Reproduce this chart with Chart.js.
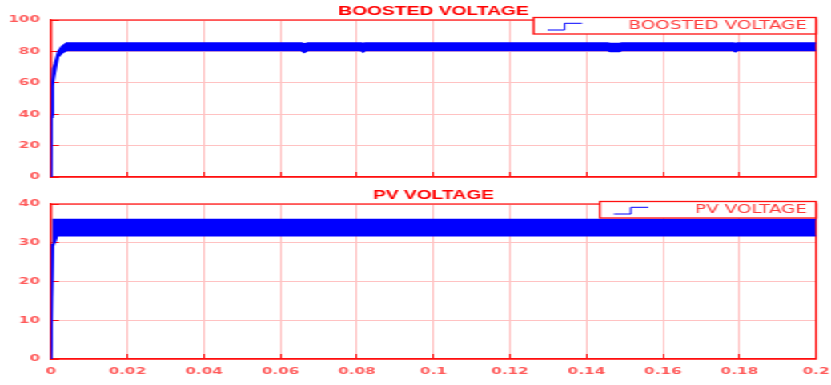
<!DOCTYPE html>
<html>
<head>
<meta charset="utf-8">
<script src="https://cdn.jsdelivr.net/npm/chart.js@4.4.0/dist/chart.umd.min.js"></script>
<style>
  html, body { margin: 0; padding: 0; background: #fff; width: 831px; height: 385px; overflow: hidden; }
  /* the scope export is stretched sideways, so draw narrow and widen */
  #wrap { position: absolute; left: 0; top: 0; width: 519px; transform-origin: 0 0; transform: scaleX(1.60116); }
  canvas { display: block; }
</style>
</head>
<body>
<div id="wrap">
  <canvas id="boostChart" width="519" height="185"></canvas>
  <canvas id="pvChart" width="519" height="200"></canvas>
</div>
<script>
// --- Data: envelope of the switching ripple ---
const boostTime  = [0, 0.0001, 0.0004, 0.0006, 0.001, 0.0015, 0.0019, 0.0028, 0.0041, 0.0655, 0.0662, 0.0672, 0.0811, 0.0816, 0.0821, 0.1455, 0.1462, 0.1486, 0.1493, 0.1784, 0.1789, 0.1795, 0.2];
const boostUpper = [0, 39.5, 60, 69, 72, 76.5, 80, 83, 85.4, 85.4, 84.8, 85.4, 85.4, 84.9, 85.4, 85.4, 85.0, 85.0, 85.4, 85.4, 85.1, 85.4, 85.4];
const boostLower = [0, 38, 58, 60.7, 66, 72.4, 76.6, 78.8, 80.6, 80.6, 79.3, 80.6, 80.6, 79.6, 80.6, 80.6, 79.9, 79.9, 80.6, 80.6, 79.8, 80.6, 80.6];

const pvTime  = [0, 0.0001, 0.0003, 0.0005, 0.0007, 0.0012, 0.0016, 0.2];
const pvUpper = [0, 29.5, 29.5, 29.5, 36, 36, 36, 36];
const pvLower = [0, 3.6, 3.6, 29.4, 29.4, 30.5, 31.8, 31.8];

const timeRange = [0, 0.2];
const timeStep = 0.02;

const RED = '#ff1010';
const GRID = '#ffc2c2';
const TICK_RED = '#ff5a5a';
const BLUE = '#0000ff';

// red frame round the plot area (top + right sides too)
const frameBox = {
  id: 'frameBox',
  beforeDatasetsDraw(chart) {
    const { ctx, chartArea: a } = chart;
    ctx.save();
    ctx.strokeStyle = RED;
    ctx.lineWidth = 1.2;
    ctx.strokeRect(a.left, a.top, a.right - a.left, a.bottom - a.top);
    ctx.restore();
  }
};

// scope-style legend box in the top right corner
const scopeLegend = {
  id: 'scopeLegend',
  afterDraw(chart) {
    const { ctx, chartArea: a } = chart;
    const text = chart.data.datasets[1].label;
    ctx.save();
    ctx.font = '11.5px "DejaVu Sans"';
    const w = ctx.measureText(text).width + 65, h = 16.5;
    const x = a.right - w, y = a.top - 2.5;
    ctx.fillStyle = '#fff';
    ctx.fillRect(x, y, w, h);
    ctx.strokeStyle = RED;
    ctx.lineWidth = 1.3;
    ctx.strokeRect(x, y, w, h);
    ctx.strokeStyle = BLUE;
    ctx.lineWidth = 1;
    ctx.beginPath();
    ctx.moveTo(x + 8.8, y + 12.5);
    ctx.lineTo(x + 19.4, y + 12.5);
    ctx.lineTo(x + 19.4, y + 5.8);
    ctx.lineTo(x + 30.3, y + 5.8);
    ctx.stroke();
    ctx.fillStyle = '#ff3b3b';
    ctx.textAlign = 'right';
    ctx.textBaseline = 'middle';
    ctx.fillText(text, x + w - 5.6, y + 9);
    ctx.restore();
  }
};

function toPoints(time, vals) {
  return time.map((t, i) => ({ x: t, y: vals[i] }));
}

// drop the label overhang padding so the plot box lands where the scope had it
function noOverhang(s) {
  s.paddingLeft = 0; s.paddingRight = 0; s.paddingTop = 0; s.paddingBottom = 0;
}

function makeScope(canvasId, title, time, lower, upper, yMax, yStep, showX, xHeight, titlePad) {
  const tickFont = { family: 'DejaVu Sans', size: 9.5, weight: 'bold' };
  return new Chart(document.getElementById(canvasId), {
    type: 'line',
    data: {
      datasets: [
        { label: '', data: toPoints(time, lower), borderColor: BLUE, borderWidth: 1.5, pointRadius: 0, fill: false },
        { label: title, data: toPoints(time, upper), borderColor: BLUE, backgroundColor: BLUE, borderWidth: 1.5, pointRadius: 0, fill: '-1' },
      ]
    },
    options: {
      animation: false,
      responsive: false,
      devicePixelRatio: 1,
      layout: { autoPadding: false, padding: { left: 0, right: 9.4, top: 0, bottom: 0 } },
      plugins: {
        legend: { display: false },
        tooltip: { enabled: false },
        title: {
          display: true, text: title, fullSize: false, color: '#ff0000',
          font: { family: 'Liberation Sans', size: 12, weight: 'bold', lineHeight: 1.1 },
          padding: titlePad,
        },
      },
      scales: {
        x: {
          type: 'linear', min: timeRange[0], max: timeRange[1],
          border: { color: RED, width: 1.2 },
          grid: { color: GRID, tickColor: RED, drawTicks: true, tickLength: -5 },
          ticks: {
            display: showX, stepSize: timeStep, padding: 11.8, color: TICK_RED, font: tickFont,
            maxRotation: 0, autoSkip: false,
            callback: v => String(+v.toFixed(2)),
          },
          afterFit: s => { s.height = xHeight; noOverhang(s); },
        },
        y: {
          min: 0, max: yMax,
          border: { color: RED, width: 1.2 },
          grid: { color: GRID, tickColor: RED, drawTicks: true, tickLength: -5 },
          ticks: { stepSize: yStep, padding: 11.85, color: TICK_RED, font: tickFont },
          afterFit: s => { s.width = 31.85; noOverhang(s); },
        },
      },
    },
    plugins: [frameBox, scopeLegend],
  });
}

makeScope('boostChart', 'BOOSTED VOLTAGE', boostTime, boostLower, boostUpper, 100, 20, false, 8, { top: 5, bottom: 1.8 });
makeScope('pvChart', 'PV VOLTAGE', pvTime, pvLower, pvUpper, 40, 10, true, 26, { top: 3.7, bottom: 2.1 });
</script>
</body>
</html>
